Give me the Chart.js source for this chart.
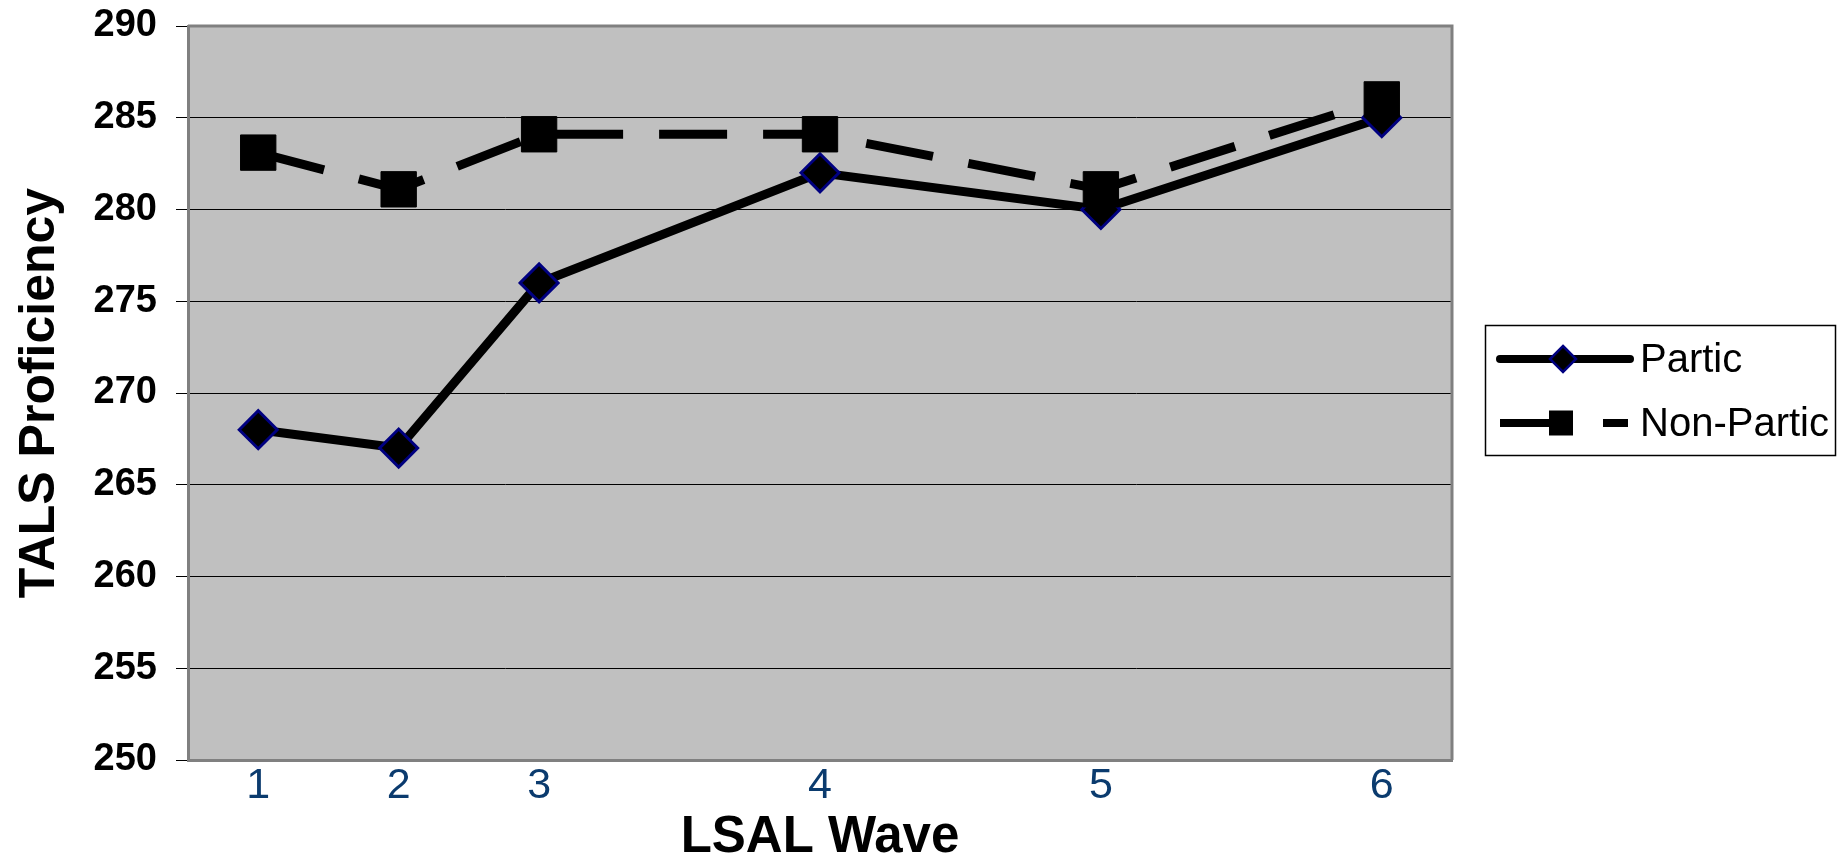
<!DOCTYPE html>
<html>
<head>
<meta charset="utf-8">
<script src="https://cdn.jsdelivr.net/npm/chart.js@4"></script>
<style>
  body { margin: 0; background: #fff; }
  #wrap { width: 1841px; height: 859px; position: relative; }
</style>
</head>
<body>
<div id="wrap"><canvas id="talsChart"></canvas></div>
<script>
// Survey waves: tick labels and where each wave sits on the time axis
const waveLabels = ['1', '2', '3', '4', '5', '6'];
const wavePositions = [1, 2, 3, 5, 7, 9];

// Mean TALS proficiency per wave
const particScores = [268, 267, 276, 282, 280, 285];
const nonParticScores = [283.1, 281.1, 284.1, 284.1, 281.1, 286];

// Y axis ticks
const yTicks = [250, 255, 260, 265, 270, 275, 280, 285, 290];

const FONT = '"Liberation Sans", Arial, sans-serif';

function toPoints(values) {
  return values.map((v, i) => ({ x: wavePositions[i], y: v }));
}

// Grey plot background plus the frame on the top and right
const plotFrame = {
  id: 'plotFrame',
  beforeDraw(chart) {
    const { ctx, chartArea: a } = chart;
    ctx.save();
    ctx.fillStyle = '#c0c0c0';
    ctx.fillRect(a.left, a.top, a.right - a.left, a.bottom - a.top);
    ctx.restore();
  },
  beforeDatasetsDraw(chart) {
    const { ctx, chartArea: a } = chart;
    ctx.save();
    ctx.strokeStyle = '#808080';
    ctx.lineWidth = 3;
    ctx.beginPath();
    ctx.moveTo(a.left, a.top);
    ctx.lineTo(a.right, a.top);
    ctx.lineTo(a.right, a.bottom);
    ctx.stroke();
    ctx.restore();
  }
};

// Legend box with line + marker samples
const lineLegend = {
  id: 'lineLegend',
  afterDraw(chart) {
    const { ctx } = chart;
    const ds = chart.data.datasets;
    ctx.save();
    ctx.fillStyle = '#fff';
    ctx.fillRect(1485, 325, 351, 130);
    ctx.strokeStyle = '#000';
    ctx.lineWidth = 1.5;
    ctx.strokeRect(1485.5, 325.5, 350, 130);

    // Partic
    let y = 359;
    ctx.strokeStyle = '#000';
    ctx.lineWidth = 8;
    ctx.lineCap = 'round';
    ctx.beginPath();
    ctx.moveTo(1500, y);
    ctx.lineTo(1630, y);
    ctx.stroke();
    ctx.lineCap = 'butt';
    ctx.fillStyle = '#000';
    ctx.strokeStyle = ds[0].pointBorderColor;
    ctx.lineWidth = 2.5;
    ctx.beginPath();
    ctx.moveTo(1563, y - 13);
    ctx.lineTo(1576, y);
    ctx.lineTo(1563, y + 13);
    ctx.lineTo(1550, y);
    ctx.closePath();
    ctx.fill();
    ctx.stroke();

    // Non-Partic
    y = 423;
    ctx.strokeStyle = '#000';
    ctx.lineWidth = 8;
    ctx.setLineDash([73, 30, 25, 100]);
    ctx.beginPath();
    ctx.moveTo(1500, y);
    ctx.lineTo(1628, y);
    ctx.stroke();
    ctx.setLineDash([]);
    ctx.fillRect(1549, y - 12.5, 24, 25);

    ctx.fillStyle = '#000';
    ctx.font = '40px ' + FONT;
    ctx.textBaseline = 'middle';
    ctx.textAlign = 'left';
    ctx.fillText(ds[0].label, 1640, 361);
    ctx.fillText(ds[1].label, 1640, 425);
    ctx.restore();
  }
};

new Chart(document.getElementById('talsChart'), {
  type: 'line',
  data: {
    datasets: [
      {
        label: 'Partic',
        data: toPoints(particScores),
        borderColor: '#000',
        borderWidth: 9,
        pointStyle: 'rectRot',
        pointRadius: 19,
        pointBackgroundColor: '#000',
        pointBorderColor: '#000080',
        pointBorderWidth: 3,
        order: 1
      },
      {
        label: 'Non-Partic',
        data: toPoints(nonParticScores),
        borderColor: '#000',
        borderWidth: 9,
        borderDash: [68, 36],
        pointStyle: 'rect',
        pointRadius: 25,
        pointBackgroundColor: '#000',
        pointBorderColor: '#000',
        pointBorderWidth: 1,
        order: 0
      }
    ]
  },
  options: {
    responsive: true,
    maintainAspectRatio: false,
    animation: false,
    events: [],
    layout: { padding: { top: 23, right: 389, bottom: 0, left: 0 } },
    plugins: { legend: { display: false }, tooltip: { enabled: false } },
    scales: {
      x: {
        type: 'linear',
        min: 0.5,
        max: 9.5,
        afterBuildTicks(scale) {
          scale.ticks = wavePositions.map(v => ({ value: v }));
        },
        afterFit(scale) {
          scale.height = 99;
          scale.paddingLeft = 0;
          scale.paddingRight = 0;
        },
        ticks: {
          autoSkip: false,
          maxRotation: 0,
          padding: -8,
          color: '#0b3b6e',
          font: { family: FONT, size: 43 },
          callback: (value, index) => waveLabels[index]
        },
        grid: { display: false },
        border: { display: true, color: '#808080', width: 3 },
        title: {
          display: true,
          text: 'LSAL Wave',
          color: '#000',
          font: { family: FONT, size: 51, weight: 'bold', lineHeight: 1 },
          padding: { top: 0, bottom: -4 }
        }
      },
      y: {
        min: 250,
        max: 290,
        afterBuildTicks(scale) {
          scale.ticks = yTicks.map(v => ({ value: v }));
        },
        afterFit(scale) {
          scale.width = 188;
          scale.paddingTop = 0;
          scale.paddingBottom = 0;
        },
        ticks: {
          padding: 19,
          color: '#000',
          font: { family: FONT, size: 38, weight: 'bold' }
        },
        grid: { color: '#000', lineWidth: 1, tickLength: 12, drawTicks: true },
        border: { display: true, color: '#808080', width: 3 },
        title: {
          display: true,
          text: 'TALS Proficiency',
          color: '#000',
          font: { family: FONT, size: 50, weight: 'bold', lineHeight: 1 },
          padding: { top: 15, bottom: 0 }
        }
      }
    }
  },
  plugins: [plotFrame, lineLegend]
});
</script>
</body>
</html>
